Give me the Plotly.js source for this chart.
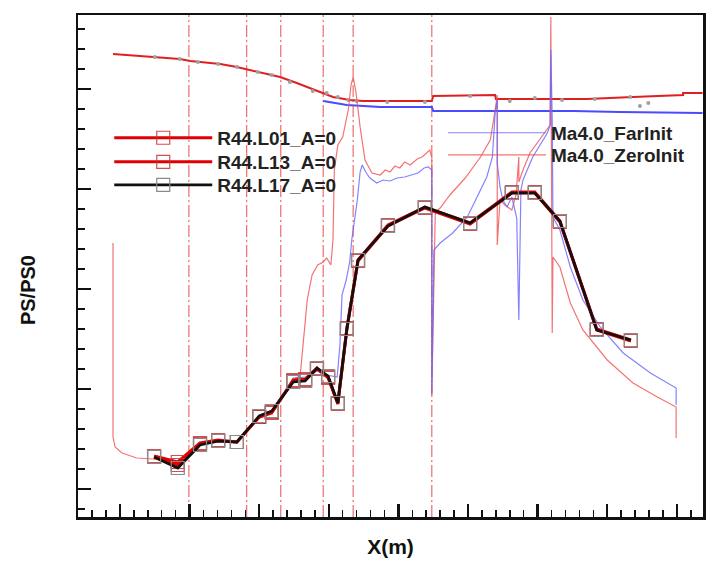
<!DOCTYPE html>
<html>
<head>
<meta charset="utf-8">
<script src="https://cdn.plot.ly/plotly-3.0.1.min.js"></script>
<style>html,body{margin:0;padding:0;background:#fff;}#chart{width:716px;height:578px;}</style>
</head>
<body>
<div id="chart"></div>
<script>
// ---- data (axis units: x in m-like units, y = PS/PS0 units; no tick labels on the original) ----
var stationX = [0.49, 0.83, 1.15, 1.41, 1.68, 2.00, 2.18, 2.49, 2.66, 2.83, 2.99, 3.13, 3.26, 3.42, 3.85, 4.38, 5.03, 5.63, 5.96, 6.32, 6.85, 7.34];
var l01Y = [0.33, 0.27, 0.46, 0.49, 0.47, 0.72, 0.76, 1.09, 1.10, 1.21, 1.11, 0.85, 1.61, 2.29, 2.64, 2.82, 2.66, 2.97, 2.97, 2.68, 1.60, 1.49];
var l13Y = [0.32, 0.24, 0.45, 0.48, 0.47, 0.72, 0.77, 1.08, 1.09, 1.20, 1.12, 0.86, 1.60, 2.28, 2.63, 2.81, 2.65, 2.96, 2.96, 2.67, 1.59, 1.48];
var l17Y = [0.32, 0.21, 0.44, 0.48, 0.47, 0.73, 0.78, 1.07, 1.08, 1.21, 1.13, 0.86, 1.60, 2.29, 2.63, 2.82, 2.66, 2.96, 2.96, 2.68, 1.59, 1.49];

var zeroX = [-0.10, -0.10, -0.07, 0.03, 0.24, 0.47, 0.83, 1.15, 1.41, 1.68, 2.00, 2.18, 2.49, 2.59, 2.63, 2.69, 2.76, 2.84, 2.92, 2.97, 3.03, 3.06, 3.08, 3.13, 3.20, 3.28, 3.32, 3.35, 3.39, 3.45, 3.52, 3.62, 3.74, 3.81, 3.88, 3.95, 4.02, 4.09, 4.17, 4.27, 4.34, 4.41, 4.45, 4.48, 4.48, 4.53, 4.60, 4.74, 4.96, 5.17, 5.32, 5.39, 5.42, 5.42, 5.46, 5.53, 5.63, 5.69, 5.73, 5.73, 5.79, 5.89, 6.03, 6.18, 6.19, 6.21, 6.22, 6.32, 6.47, 6.65, 7.00, 7.37, 7.72, 7.99, 7.99];
var zeroY = [2.46, 0.52, 0.42, 0.36, 0.31, 0.30, 0.27, 0.44, 0.48, 0.48, 0.72, 0.77, 1.08, 1.14, 1.44, 1.89, 2.14, 2.24, 2.27, 2.31, 2.24, 2.49, 3.19, 3.44, 3.52, 3.79, 4.04, 4.12, 3.97, 3.62, 3.29, 3.16, 3.14, 3.19, 3.17, 3.23, 3.21, 3.27, 3.24, 3.30, 3.32, 3.36, 3.39, 3.32, 0.94, 2.77, 2.81, 2.94, 3.11, 3.31, 3.49, 3.79, 3.94, 2.44, 2.89, 2.84, 2.79, 2.94, 3.32, 3.07, 3.19, 3.36, 3.49, 3.64, 4.72, 1.56, 2.32, 2.22, 1.86, 1.59, 1.29, 1.06, 0.92, 0.82, 0.51];

var farX = [0.49, 0.83, 1.15, 1.41, 1.68, 2.00, 2.18, 2.49, 2.67, 2.83, 2.97, 3.12, 3.16, 3.19, 3.25, 3.30, 3.33, 3.38, 3.41, 3.45, 3.48, 3.53, 3.59, 3.69, 3.78, 3.88, 3.98, 4.09, 4.20, 4.28, 4.37, 4.43, 4.48, 4.48, 4.51, 4.60, 4.78, 4.99, 5.13, 5.27, 5.35, 5.39, 5.42, 5.42, 5.46, 5.50, 5.56, 5.63, 5.70, 5.73, 5.76, 5.79, 5.93, 6.14, 6.18, 6.19, 6.21, 6.22, 6.32, 6.47, 6.65, 6.90, 7.23, 7.62, 7.99, 7.99];
var farY = [0.32, 0.24, 0.45, 0.48, 0.47, 0.73, 0.78, 1.11, 1.12, 1.18, 1.14, 1.12, 1.44, 1.94, 2.09, 2.27, 2.49, 2.74, 2.89, 3.17, 3.24, 3.17, 3.11, 3.06, 3.09, 3.08, 3.11, 3.12, 3.14, 3.16, 3.21, 3.22, 3.19, 0.96, 2.39, 2.46, 2.56, 2.72, 2.92, 3.12, 3.32, 3.76, 3.89, 3.26, 3.02, 2.89, 2.82, 2.92, 2.71, 1.69, 2.99, 3.09, 3.32, 3.56, 3.64, 4.39, 3.69, 2.72, 2.59, 2.22, 1.89, 1.62, 1.36, 1.16, 1.01, 0.84];

var zeroUpperX = [-0.10, 0.47, 0.86, 1.01, 1.44, 1.68, 2.01, 2.30, 2.54, 2.83, 3.06, 3.30, 3.49, 4.02, 4.48, 4.50, 5.39, 5.40, 6.18, 6.71, 7.37, 8.09, 8.09, 8.37];
var zeroUpperY = [4.35, 4.32, 4.30, 4.28, 4.25, 4.22, 4.17, 4.12, 4.06, 3.98, 3.92, 3.89, 3.88, 3.88, 3.88, 3.93, 3.94, 3.90, 3.90, 3.90, 3.92, 3.94, 3.96, 3.96];
var farUpperX = [2.92, 3.26, 3.74, 4.48, 4.50, 6.51, 7.18, 8.37];
var farUpperY = [3.88, 3.84, 3.82, 3.82, 3.78, 3.78, 3.77, 3.76];

var dotX = [0.50, 0.86, 1.12, 1.41, 1.68, 1.98, 2.18, 2.44, 2.77, 2.97, 3.13, 3.28, 3.40, 3.84, 4.38, 5.03, 5.60, 5.96, 6.35, 6.82, 7.33, 7.47, 7.59];
var dotY = [4.32, 4.30, 4.27, 4.25, 4.22, 4.17, 4.14, 4.07, 3.98, 3.96, 3.92, 3.89, 3.88, 3.87, 3.87, 3.93, 3.88, 3.91, 3.89, 3.90, 3.92, 3.83, 3.86];

var stationLinesX = [0.99, 1.82, 2.31, 2.92, 3.35, 4.48];

var seriesNames = ['R44.L01_A=0', 'R44.L13_A=0', 'R44.L17_A=0', 'Ma4.0_FarInit', 'Ma4.0_ZeroInit'];

// ---- traces ----
var thinRed = 'rgba(240,80,80,0.8)';
var thinBlue = 'rgba(100,100,255,0.8)';
var traces = [
  {x: zeroUpperX, y: zeroUpperY, mode: 'lines', line: {color: '#e02020', width: 2}, showlegend: false, hoverinfo: 'skip'},
  {x: farUpperX, y: farUpperY, mode: 'lines', line: {color: '#4a4aff', width: 2}, showlegend: false, hoverinfo: 'skip'},
  {x: dotX, y: dotY, mode: 'markers', marker: {symbol: 'circle', size: 4, color: '#a0a0a0'}, showlegend: false, hoverinfo: 'skip'},
  {x: zeroX, y: zeroY, mode: 'lines', name: seriesNames[4], legend: 'legend5', line: {color: thinRed, width: 1.2}},
  {x: farX, y: farY, mode: 'lines', name: seriesNames[3], legend: 'legend4', line: {color: thinBlue, width: 1.2}},
  {x: stationX, y: l01Y, mode: 'lines+markers', name: seriesNames[0], legend: 'legend', line: {color: '#e00000', width: 3},
   marker: {symbol: 'square-open', size: 13, color: 'rgba(200,50,50,0.85)', line: {width: 1.2}}},
  {x: stationX, y: l13Y, mode: 'lines+markers', name: seriesNames[1], legend: 'legend2', line: {color: '#e00000', width: 3},
   marker: {symbol: 'square-open', size: 13, color: 'rgba(200,50,50,0.85)', line: {width: 1.2}}},
  {x: stationX, y: l17Y, mode: 'lines+markers', name: seriesNames[2], legend: 'legend3', line: {color: '#111', width: 2.7},
   marker: {symbol: 'square-open', size: 13, color: '#8a8a8a', line: {width: 1.2}}}
];

var shapes = stationLinesX.map(function (xv) {
  return {type: 'line', xref: 'x', yref: 'paper', x0: xv, x1: xv, y0: 0, y1: 1, layer: 'below',
          line: {color: 'rgba(230,60,60,0.75)', width: 1.2, dash: '12px,3px,2px,3px'}};
});

var fontFam = 'Liberation Sans, Arial, Helvetica, sans-serif';
var axisCommon = {
  showline: true, mirror: true, linecolor: '#111', linewidth: 2.5,
  ticks: 'inside', ticklen: 13, tickwidth: 2.5, tickcolor: '#111',
  showticklabels: false, showgrid: false, zeroline: false,
  minor: {ticks: 'inside', ticklen: 7, tickwidth: 1.5, tickcolor: '#111', dtick: 0.2, showgrid: false}
};

function legendBox(xp, yp) {
  return {x: xp, y: yp, xanchor: 'left', yanchor: 'top', bgcolor: 'rgba(0,0,0,0)', borderwidth: 0,
          itemwidth: 98, tracegroupgap: 0,
          font: {family: fontFam, size: 19, weight: 'bold', color: '#222'}};
}

var layout = {
  width: 716, height: 578,
  margin: {l: 78, r: 13, t: 15, b: 61},
  paper_bgcolor: '#fff', plot_bgcolor: '#fff',
  font: {family: fontFam, color: '#111'},
  xaxis: Object.assign({}, axisCommon, {range: [-0.603, 8.376], tick0: 0, dtick: 1,
    title: {text: 'X(m)', font: {family: fontFam, size: 21, weight: 'bold', color: '#111'}, standoff: 21}}),
  yaxis: Object.assign({}, axisCommon, {range: [-0.28, 4.74], tick0: 0, dtick: 1}),
  shapes: shapes,
  legend: legendBox(0.050, 0.793),
  legend2: legendBox(0.050, 0.745),
  legend3: legendBox(0.050, 0.699),
  legend4: legendBox(0.584, 0.803),
  legend5: legendBox(0.584, 0.759),
  annotations: [
    {text: 'PS/PS0', xref: 'paper', yref: 'paper', x: -0.08, y: 0.452, xanchor: 'center', yanchor: 'middle',
     textangle: -90, showarrow: false, font: {family: fontFam, size: 20, weight: 'bold', color: '#111'}}
  ]
};

Plotly.newPlot('chart', traces, layout, {displayModeBar: false, staticPlot: true});
</script>
</body>
</html>
